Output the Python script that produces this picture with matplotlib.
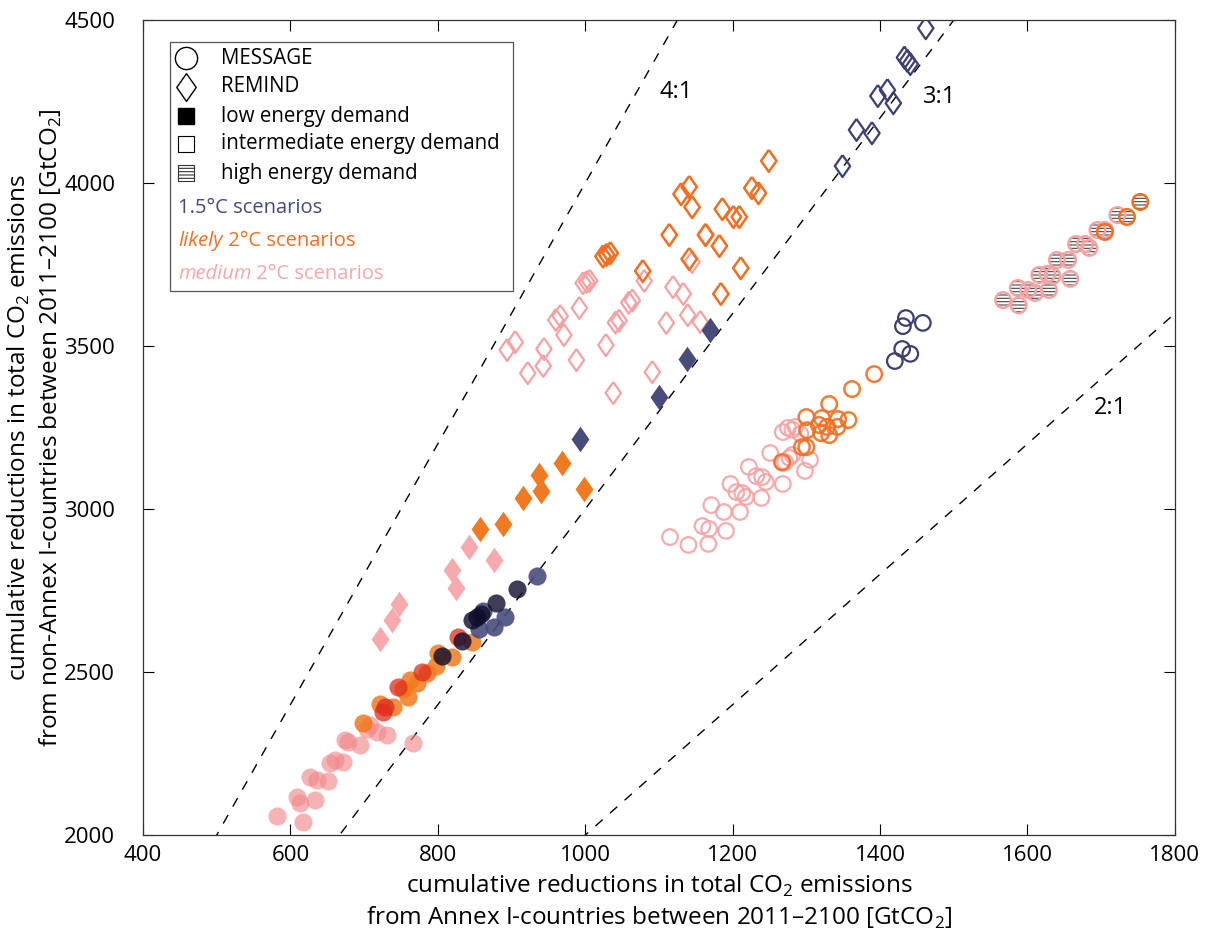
import numpy as np
import matplotlib
matplotlib.use("Agg")
import matplotlib.pyplot as plt
from matplotlib.patches import Rectangle
from matplotlib.lines import Line2D

plt.rcParams['font.family'] = ['Open Sans', 'DejaVu Sans']
plt.rcParams['mathtext.fontset'] = 'custom'
plt.rcParams['mathtext.rm'] = 'Open Sans'
plt.rcParams['hatch.linewidth'] = 0.8

# =====================================
# Data (GtCO2)
# =====================================
# REMIND, low energy demand (filled diamonds)
rem_low_15_x = [993, 1100, 1138, 1169]
rem_low_15_y = [3215, 3344, 3460, 3548]
rem_low_lik_x = [857, 888, 915, 940, 937, 968, 998]
rem_low_lik_y = [2940, 2955, 3035, 3055, 3105, 3140, 3063]
rem_low_med_x = [842, 819, 825, 876, 747, 738, 722]
rem_low_med_y = [2884, 2813, 2758, 2844, 2709, 2660, 2602]

# REMIND, intermediate energy demand (open diamonds)
rem_int_15_x = [1462, 1433, 1437, 1441, 1397, 1410, 1418, 1368, 1389, 1349]
rem_int_15_y = [4475, 4385, 4375, 4365, 4267, 4285, 4245, 4163, 4153, 4052]
rem_int_lik_x = [1249, 1130, 1141, 1145, 1186, 1201, 1209, 1226, 1235, 1114,
                 1163, 1182, 1141, 1211, 1078, 1184, 1024, 1029, 1034]
rem_int_lik_y = [4068, 3966, 3988, 3926, 3920, 3896, 3896, 3985, 3969, 3841,
                 3841, 3807, 3767, 3739, 3730, 3660, 3775, 3780, 3785]
rem_int_med_x = [997, 1002, 1006, 992, 960, 966, 971, 905, 894, 944, 943, 922,
                 988, 1028, 1041, 1046, 1059, 1064, 1080, 1119, 1133, 1110,
                 1139, 1156, 1091, 1038, 1164, 1145]
rem_int_med_y = [3693, 3697, 3700, 3617, 3580, 3592, 3534, 3512, 3488, 3491,
                 3439, 3417, 3457, 3503, 3572, 3578, 3633, 3640, 3700, 3681,
                 3660, 3571, 3595, 3574, 3420, 3356, 3841, 3758]

# MESSAGE, low energy demand (filled circles)
msg_low_15dark_x = [907, 879, 853, 846, 859, 833, 806]
msg_low_15dark_y = [2755, 2712, 2669, 2660, 2678, 2595, 2549]
msg_low_15_x = [935, 891, 876, 856, 861]
msg_low_15_y = [2795, 2669, 2638, 2632, 2687]
msg_low_lik_x = [846, 819, 800, 798, 785, 762, 772, 753, 760, 739, 722, 699]
msg_low_lik_y = [2592, 2546, 2559, 2519, 2497, 2476, 2467, 2448, 2424, 2393,
                 2402, 2344]
msg_low_likred_x = [827, 779, 746, 728, 726]
msg_low_likred_y = [2608, 2500, 2454, 2393, 2378]
msg_low_med_x = [708, 704, 718, 731, 678, 694, 661, 654, 671, 627, 636, 651,
                 609, 613, 633, 582, 617, 766, 674]
msg_low_med_y = [2338, 2325, 2316, 2307, 2286, 2276, 2230, 2221, 2224, 2178,
                 2169, 2166, 2117, 2099, 2108, 2059, 2040, 2283, 2292]

# MESSAGE, intermediate energy demand (open circles)
msg_int_15_x = [1435, 1431, 1458, 1430, 1441, 1420]
msg_int_15_y = [3586, 3561, 3571, 3491, 3476, 3454]
msg_int_lik_x = [1392, 1362, 1331, 1300, 1321, 1343, 1357, 1328, 1317, 1342,
                 1331, 1320, 1301, 1294, 1300, 1267]
msg_int_lik_y = [3414, 3368, 3322, 3282, 3279, 3276, 3273, 3252, 3258, 3252,
                 3227, 3233, 3242, 3190, 3190, 3144]
msg_int_med_x = [1115, 1140, 1167, 1159, 1168, 1191, 1171, 1188, 1210, 1197,
                 1205, 1213, 1218, 1239, 1222, 1232, 1240, 1245, 1268, 1251,
                 1268, 1277, 1281, 1305, 1298, 1268, 1275, 1281, 1285, 1292,
                 1271]
msg_int_med_y = [2914, 2890, 2893, 2948, 2939, 2933, 3012, 2991, 2991, 3077,
                 3052, 3049, 3037, 3034, 3129, 3101, 3098, 3083, 3077, 3172,
                 3141, 3157, 3166, 3151, 3117, 3236, 3249, 3243, 3252, 3230,
                 3144]

# MESSAGE, high energy demand (hatched circles)
msg_high_lik_x = [1705, 1735, 1753]
msg_high_lik_y = [3850, 3896, 3942]
msg_high_med_x = [1567, 1588, 1587, 1601, 1610, 1629, 1658, 1616, 1627, 1634,
                  1640, 1655, 1666, 1678, 1684, 1695, 1705, 1722]
msg_high_med_y = [3641, 3625, 3678, 3672, 3663, 3672, 3706, 3718, 3721, 3715,
                  3764, 3764, 3813, 3813, 3801, 3856, 3856, 3902]

ratios = [4, 3, 2]
ratio_labels = ["4:1", "3:1", "2:1"]
ratio_label_x = [1124, 1481, 1712]
ratio_label_y = [4279, 4264, 3310]

# =====================================
# Styles
# =====================================
c15 = '#3d3f70'
c15_fill = '#494c7b'
c15_dark = '#0e0d2c'
clik = '#f26f21'
clik_red = '#df2c1c'
cmed = '#f6a2a3'
cmed_fill = '#f28a8d'
diamond = [(0, 1), (0.7, 0), (0, -1), (-0.7, 0), (0, 1)]

fig = plt.figure(figsize=(12.15, 9.41), dpi=100)
ax = fig.add_axes([0.1177, 0.1126, 0.8493, 0.8661])

xs = np.array([400, 1800])
for k in ratios:
    ax.plot(xs, k * xs, color='black', lw=1.0, dashes=(7, 7), zorder=1)
for lab, lx, ly in zip(ratio_labels, ratio_label_x, ratio_label_y):
    ax.text(lx, ly, lab, fontsize=17, ha='center', va='center')

# filled circles
ax.scatter(msg_low_med_x, msg_low_med_y, s=170, c=cmed_fill, alpha=0.65,
           linewidths=0, zorder=2)
ax.scatter(msg_low_lik_x, msg_low_lik_y, s=170, c='#f07a1e', alpha=0.85,
           linewidths=0, zorder=3)
ax.scatter(msg_low_likred_x, msg_low_likred_y, s=170, c=clik_red, alpha=0.75,
           linewidths=0, zorder=3)
ax.scatter(msg_low_15_x, msg_low_15_y, s=170, c=c15_fill, alpha=0.9,
           linewidths=0, zorder=4)
ax.scatter(msg_low_15dark_x, msg_low_15dark_y, s=170, c=c15_dark, alpha=0.8,
           linewidths=0, zorder=4)

# filled diamonds
ax.scatter(rem_low_med_x, rem_low_med_y, s=340, marker=diamond, c='#f7aaad',
           linewidths=0, zorder=2)
ax.scatter(rem_low_lik_x, rem_low_lik_y, s=340, marker=diamond, c='#f07a22',
           linewidths=0, zorder=3)
ax.scatter(rem_low_15_x, rem_low_15_y, s=340, marker=diamond, c=c15_fill,
           linewidths=0, zorder=4)

# open circles
ax.scatter(msg_int_med_x, msg_int_med_y, s=125, facecolors='none',
           edgecolors=cmed, linewidths=1.6, alpha=0.9, zorder=2)
ax.scatter(msg_int_lik_x, msg_int_lik_y, s=125, facecolors='none',
           edgecolors=clik, linewidths=1.8, alpha=0.9, zorder=3)
ax.scatter(msg_int_15_x, msg_int_15_y, s=125, facecolors='none',
           edgecolors=c15, linewidths=1.6, zorder=4)

# hatched circles
for hx, hy, col in [(msg_high_med_x, msg_high_med_y, cmed),
                    (msg_high_lik_x, msg_high_lik_y, clik)]:
    ax.scatter(hx, hy, s=125, facecolors='white', edgecolors='#444444',
               linewidths=0, hatch='-----', zorder=3)
    ax.scatter(hx, hy, s=125, facecolors='none', edgecolors=col,
               linewidths=1.8, zorder=4)

# open diamonds
ax.scatter(rem_int_med_x, rem_int_med_y, s=250, marker=diamond,
           facecolors='none', edgecolors=cmed, linewidths=1.6, zorder=2)
ax.scatter(rem_int_lik_x, rem_int_lik_y, s=250, marker=diamond,
           facecolors='none', edgecolors=clik, linewidths=1.8, zorder=3)
ax.scatter(rem_int_15_x, rem_int_15_y, s=250, marker=diamond,
           facecolors='none', edgecolors=c15, linewidths=1.6, zorder=4)

ax.set_xlim(400, 1800)
ax.set_ylim(2000, 4500)
ax.set_xticks(np.arange(400, 1801, 200))
ax.set_yticks(np.arange(2000, 4501, 500))
ax.tick_params(direction='in', length=8, width=0.8, top=True, right=True,
               labelsize=16)
ax.tick_params(axis='x', pad=7)
ax.tick_params(axis='y', pad=20)
for sp in ax.spines.values():
    sp.set_linewidth(0.9)
    sp.set_color('#333333')

ax.set_xlabel("cumulative reductions in total CO$_2$ emissions\n"
              "from Annex I-countries between 2011\u20132100 [GtCO$_2$]",
              fontsize=17.5, linespacing=1.3)
ax.set_ylabel("cumulative reductions in total CO$_2$ emissions\n"
              "from non-Annex I-countries between 2011\u20132100 [GtCO$_2$]",
              fontsize=17.5, linespacing=1.25)
ax.xaxis.set_label_coords(0.5, -0.046)
ax.yaxis.set_label_coords(-0.077, 0.5)

# =====================================
# Legend box
# =====================================
T = ax.transAxes
ax.add_patch(Rectangle((0.0262, 0.6675), 0.3322, 0.3055, transform=T,
                       facecolor='white', edgecolor='#555555', lw=0.9,
                       zorder=5))
sym_x, txt_x = 0.0417, 0.0756
rows = [0.9534, 0.918, 0.8822, 0.848, 0.8123]
ax.add_line(Line2D([sym_x], [rows[0]], transform=T, marker='o', ms=16,
                   mfc='none', mec='black', mew=1.0, zorder=6))
ax.add_line(Line2D([sym_x], [rows[1]], transform=T, marker=diamond, ms=20,
                   mfc='none', mec='black', mew=1.0, zorder=6))
ax.add_line(Line2D([sym_x], [rows[2]], transform=T, marker='s', ms=12,
                   mfc='black', mec='black', mew=1.0, zorder=6))
ax.add_line(Line2D([sym_x], [rows[3]], transform=T, marker='s', ms=12,
                   mfc='none', mec='black', mew=0.8, zorder=6))
ax.scatter([sym_x], [rows[4]], transform=T, marker='s', s=144,
           facecolors='white', edgecolors='#333333', linewidths=0.8,
           hatch='-----', zorder=6)
for r, lab in zip(rows, ["MESSAGE", "REMIND", "low energy demand",
                         "intermediate energy demand", "high energy demand"]):
    ax.text(txt_x, r, lab, transform=T, fontsize=14.8, va='center', zorder=6)

ax.text(0.034, 0.769, "1.5\u00b0C scenarios", transform=T, fontsize=14.5,
        color='#454a7a', va='center', zorder=6)
t1 = ax.text(0.034, 0.729, "likely", transform=T, fontsize=14.5, color=clik,
             style='italic', va='center', zorder=6)
ax.annotate(" 2\u00b0C scenarios", xy=(1, 0.5), xycoords=t1, va='center',
            fontsize=14.5, color=clik, zorder=6)
t2 = ax.text(0.034, 0.689, "medium", transform=T, fontsize=14.5,
             color='#f7a8a8', style='italic', va='center', zorder=6)
ax.annotate(" 2\u00b0C scenarios", xy=(1, 0.5), xycoords=t2, va='center',
            fontsize=14.5, color='#f7a8a8', zorder=6)

fig.savefig("out.png", dpi=100)
